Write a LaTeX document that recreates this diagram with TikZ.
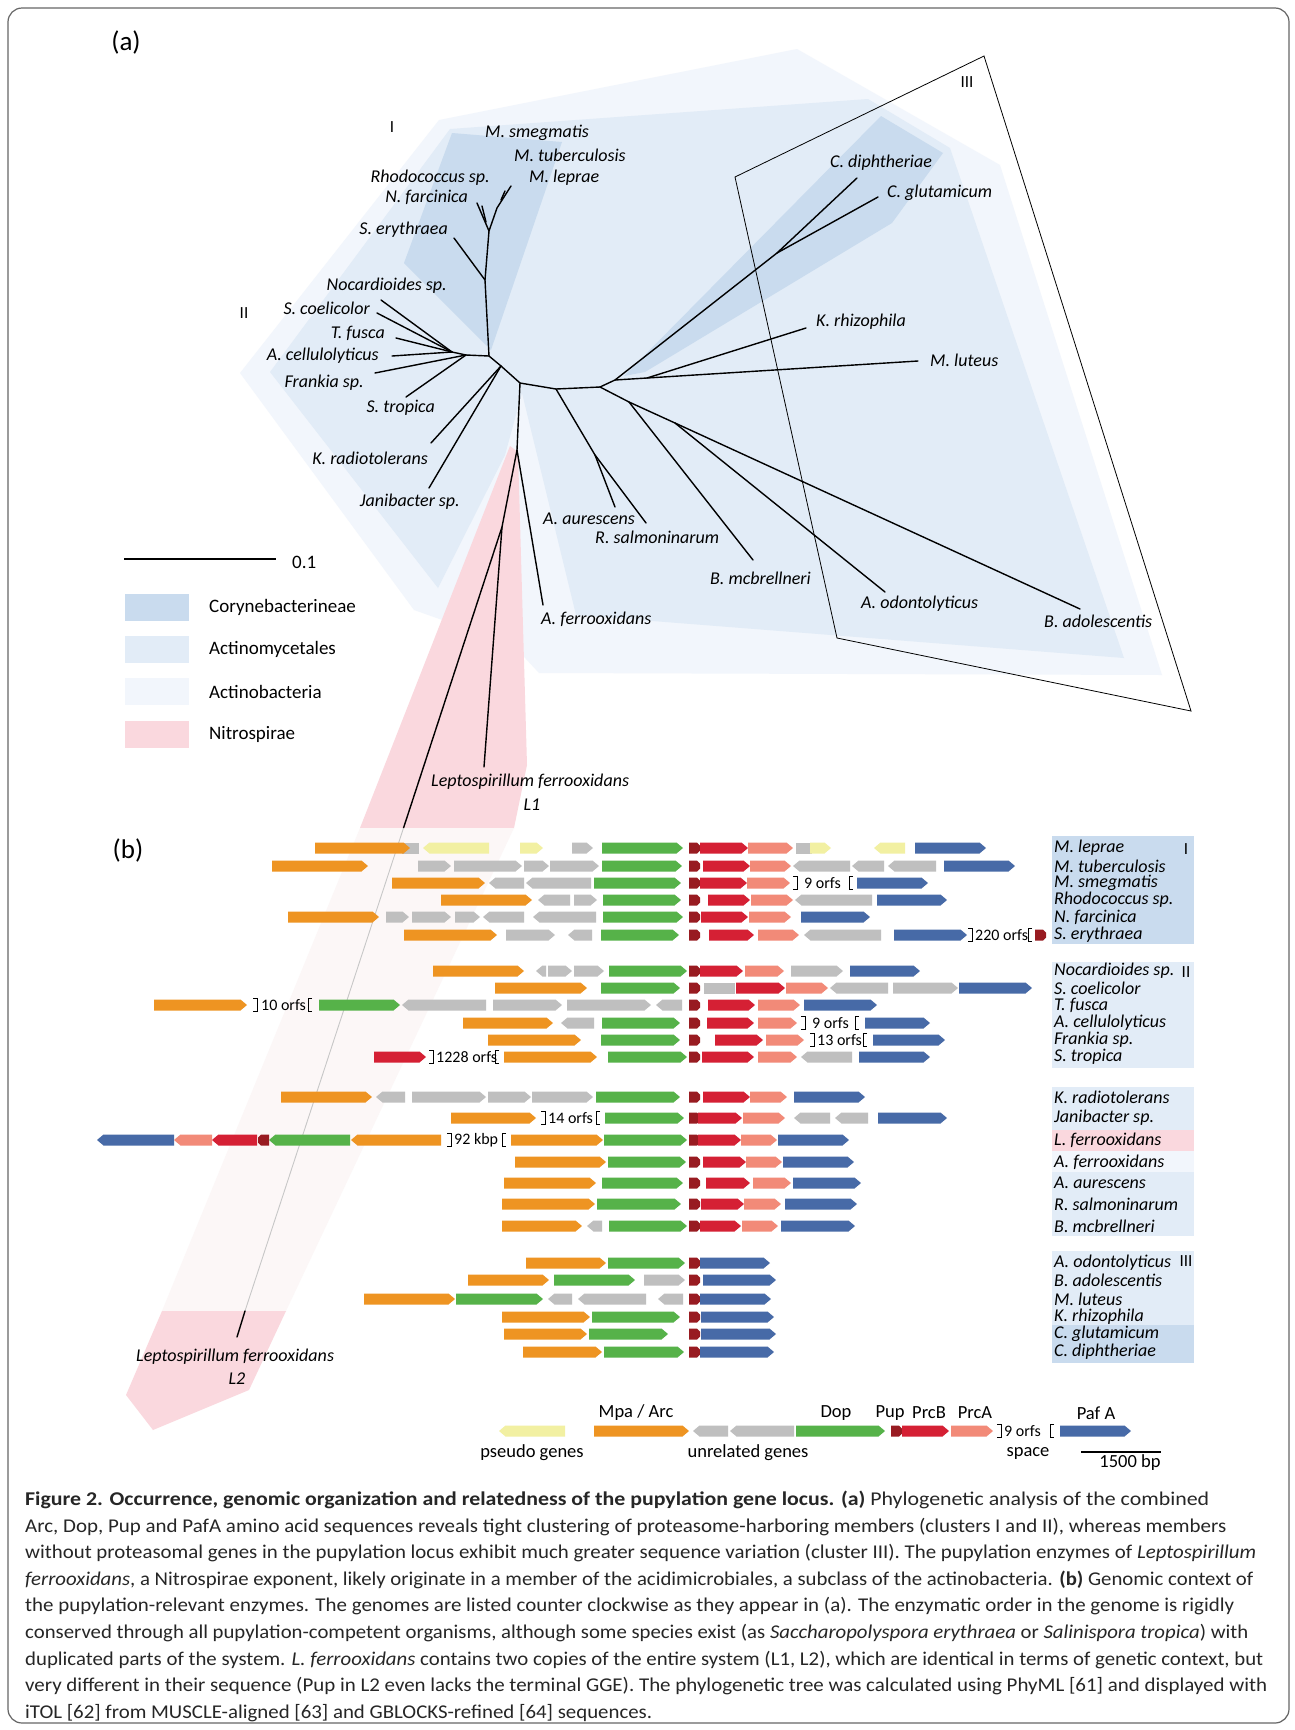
\documentclass[tikz,border=0pt]{standalone}
\usepackage{fontspec}
\setmainfont{Carlito}
\usepackage{graphicx}
\definecolor{coryne}{HTML}{C9DBEE}
\definecolor{actmyc}{HTML}{E2ECF7}
\definecolor{actbac}{HTML}{F2F6FC}
\definecolor{nitro}{HTML}{FAD8DE}
\definecolor{nitrolt}{HTML}{FCF7F7}
\definecolor{org}{HTML}{EE9422}
\definecolor{gry}{HTML}{BFBFBF}
\definecolor{ylw}{HTML}{F2F0A2}
\definecolor{grn}{HTML}{56B249}
\definecolor{pupc}{HTML}{981B21}
\definecolor{redc}{HTML}{D52034}
\definecolor{sal}{HTML}{F28A78}
\definecolor{blu}{HTML}{476AA7}
\definecolor{captc}{HTML}{262626}
\newcommand\gR[3]{\fill[#3] (#1,\Y-5.5) -- (#2-6.5,\Y-5.5) -- (#2,\Y) -- (#2-6.5,\Y+5.5) -- (#1,\Y+5.5) -- cycle;}
\newcommand\gL[3]{\fill[#3] (#2,\Y-5.5) -- (#1+6.5,\Y-5.5) -- (#1,\Y) -- (#1+6.5,\Y+5.5) -- (#2,\Y+5.5) -- cycle;}
\newcommand\gB[3]{\fill[#3] (#1,\Y-5.5) rectangle (#2,\Y+5.5);}
\newcommand\gP[1]{\fill[pupc] (#1,\Y-5.5) -- (#1+8,\Y-5.5) -- (#1+11,\Y-2.5) -- (#1+11,\Y+2.5) -- (#1+8,\Y+5.5) -- (#1,\Y+5.5) -- cycle;}
\newcommand\gPl[1]{\fill[pupc] (#1+11,\Y-5.5) -- (#1+3,\Y-5.5) -- (#1,\Y-2.5) -- (#1,\Y+2.5) -- (#1+3,\Y+5.5) -- (#1+11,\Y+5.5) -- cycle;}
\newcommand\brR[1]{\draw[brk] (#1-4,\Y-6.5) -- (#1,\Y-6.5) -- (#1,\Y+6.5) -- (#1-4,\Y+6.5);}
\newcommand\brL[1]{\draw[brk] (#1+4,\Y-6.5) -- (#1,\Y-6.5) -- (#1,\Y+6.5) -- (#1+4,\Y+6.5);}
\newcommand\gT[3]{\node[orf,anchor=west] (#1) at (#2,\Y) {#3};}
\tikzset{
  tl/.style={line width=1.4pt,line join=round,line cap=round},
  spn/.style={font=\fontsize{18}{20}\selectfont\itshape,inner sep=0pt},
  lgl/.style={font=\fontsize{19}{21}\selectfont,inner sep=0pt},
  glab/.style={font=\fontsize{18.5}{21}\selectfont,inner sep=0pt},
  orf/.style={font=\fontsize{16}{18}\selectfont,inner sep=0pt},
  roman/.style={font=\fontsize{17}{19}\selectfont,inner sep=0pt},
  brk/.style={line width=0.8pt,black},
  captext/.style={font=\fontsize{19.5}{22}\selectfont,text=captc,inner sep=0pt,anchor=west},
  panel/.style={font=\fontsize{27}{30}\selectfont,inner sep=0pt}
}
\begin{document}
\begin{tikzpicture}[x=1pt,y=-1pt]
\useasboundingbox (0,0) rectangle (1294,1730);
\fill[white] (0,0) rectangle (1294,1730);
\draw[black!60,line width=1.2pt,rounded corners=14pt] (8,8) rectangle (1289,1723);

% ---------- shaded clades ----------
\fill[actbac] (240,373) -- (439,120) -- (797,49) -- (1000,165) -- (1162,675) -- (539,673) -- (513,645) -- (414,610) -- cycle;
\fill[actmyc] (270,372) -- (450,129) -- (868,99) -- (950,148) -- (1124,658) -- (576,615) -- (522,393) -- (505,455) -- (438,588) -- cycle;
\fill[coryne] (452,133) -- (562,142) -- (491,350) -- (404,263) -- cycle;
\fill[coryne] (881,116) -- (943,153) -- (892,223) -- (645,372) -- (624,376) -- cycle;
\fill[nitro] (510,446) -- (518,452) -- (527,765) -- (514,828) -- (360,828) -- cycle;
\fill[nitrolt] (360,828) -- (514,828) -- (286,1311) -- (162,1311) -- cycle;
\fill[nitro] (162,1311) -- (286,1311) -- (249,1390) -- (153,1430) -- (126,1395) -- cycle;

% cluster III outline
\coordinate (c3a) at (735,177); \coordinate (c3b) at (984,56);
\coordinate (c3c) at (1191,711); \coordinate (c3d) at (837,638);
\draw[line width=0.8pt] (c3a) -- (c3b) -- (c3c) -- (c3d) -- cycle;

% ---------- tree ----------
\coordinate (R1) at (489,356); \coordinate (T1) at (485,280);
\coordinate (TA) at (489,231); \coordinate (TF1) at (486,222);
\coordinate (TF2) at (497,208); \coordinate (TF3) at (501,200);
\coordinate (eNfar) at (477,203); \coordinate (eRho) at (482,206);
\coordinate (eMlep) at (511,186); \coordinate (eMsm) at (505,191);
\coordinate (eSery) at (454,238);
\draw[tl] (R1) -- (T1) -- (TA) -- (eNfar);
\draw[tl] (TF1) -- (eRho);
\draw[tl] (TA) -- (TF2) -- (eMlep);
\draw[tl] (TF3) -- (eMsm);
\draw[tl] (T1) -- (eSery);
\coordinate (Q) at (466,355); \coordinate (P) at (452,352);
\coordinate (eNoc) at (381,300); \coordinate (eScoe) at (377,313);
\coordinate (eTfus) at (396,338); \coordinate (eAcel) at (392,356);
\coordinate (eFra) at (375,373); \coordinate (eStro) at (406,397);
\draw[tl] (R1) -- (Q) -- (P);
\draw[tl] (P) -- (eNoc); \draw[tl] (P) -- (eScoe);
\draw[tl] (P) -- (eTfus); \draw[tl] (P) -- (eAcel);
\draw[tl] (Q) -- (eFra); \draw[tl] (Q) -- (eStro);
\coordinate (N1) at (501,366); \coordinate (eKrad) at (431,443); \coordinate (eJan) at (429,488);
\coordinate (R2) at (520,383); \coordinate (R3) at (556,389); \coordinate (R4) at (600,387);
\draw[tl] (R1) -- (N1) -- (R2) -- (R3) -- (R4);
\draw[tl] (N1) -- (eKrad); \draw[tl] (N1) -- (eJan);
\coordinate (N2) at (517,450); \coordinate (N3) at (502,527);
\coordinate (eAfer) at (543,605); \coordinate (eL1) at (484,767);
\coordinate (L2a) at (403.5,828); \coordinate (L2b) at (245,1311); \coordinate (L2c) at (237,1337);
\draw[tl] (R2) -- (N2) -- (N3) -- (L2a);
\draw[tl] (N2) -- (eAfer); \draw[tl] (N3) -- (eL1);
\coordinate (AA) at (595,455); \coordinate (eAaur) at (615,507); \coordinate (eRsal) at (646,523);
\draw[tl] (R3) -- (AA) -- (eAaur); \draw[tl] (AA) -- (eRsal);
\coordinate (R5) at (615,380); \coordinate (K0) at (647,378); \coordinate (Cn) at (777,253);
\coordinate (eMlut) at (918,361); \coordinate (eKrhi) at (806,328);
\coordinate (eCdip) at (857,178); \coordinate (eCglu) at (878,197);
\draw[tl] (R4) -- (R5) -- (K0) -- (eMlut); \draw[tl] (K0) -- (eKrhi);
\draw[tl] (R5) -- (Cn) -- (eCdip); \draw[tl] (Cn) -- (eCglu);
\coordinate (R6) at (629,402); \coordinate (R7) at (675,423);
\coordinate (eBmcb) at (753,560); \coordinate (eBado) at (1080,609); \coordinate (eAodo) at (885,592);
\draw[tl] (R4) -- (R6) -- (eBmcb); \draw[tl] (R6) -- (R7) -- (eBado); \draw[tl] (R7) -- (eAodo);

% ---------- tree labels ----------
\node[panel] (pa) at (126,42) {(a)};
\node[roman] (rI) at (392,127) {I};
\node[roman] (rII) at (244,313) {II};
\node[roman] (rIII) at (967,82) {III};
\node[spn,anchor=west] (tMsm) at (485,133) {M. smegmatis};
\node[spn,anchor=west] (tMtb) at (514,155) {M. tuberculosis};
\node[spn,anchor=west] (tMlep) at (529,178) {M. leprae};
\node[spn,anchor=east] (tRho) at (490,178) {Rhodococcus sp.};
\node[spn,anchor=east] (tNfar) at (468,197) {N. farcinica};
\node[spn,anchor=east] (tSery) at (448,230) {S. erythraea};
\node[spn,anchor=east] (tNoc) at (447,286) {Nocardioides sp.};
\node[spn,anchor=east] (tScoe) at (370,308) {S. coelicolor};
\node[spn,anchor=east] (tTfus) at (385,333) {T. fusca};
\node[spn,anchor=east] (tAcel) at (379,356) {A. cellulolyticus};
\node[spn,anchor=east] (tFra) at (364,383) {Frankia sp.};
\node[spn,anchor=east] (tStro) at (435,408) {S. tropica};
\node[spn,anchor=east] (tKrad) at (428,458) {K. radiotolerans};
\node[spn,anchor=east] (tJan) at (460,502) {Janibacter sp.};
\node[spn,anchor=west] (tAaur) at (543,519) {A. aurescens};
\node[spn,anchor=west] (tRsal) at (595,537) {R. salmoninarum};
\node[spn,anchor=west] (tAfer) at (541,619) {A. ferrooxidans};
\node[spn,anchor=west] (tL1) at (431,782) {Leptospirillum ferrooxidans};
\node[spn] (tL1b) at (532,805) {L1};
\node[spn,anchor=west] (tBmcb) at (710,578) {B. mcbrellneri};
\node[spn,anchor=west] (tAodo) at (861,604) {A. odontolyticus};
\node[spn,anchor=west] (tBado) at (1044,621) {B. adolescentis};
\node[spn,anchor=west] (tCdip) at (830,163) {C. diphtheriae};
\node[spn,anchor=west] (tCglu) at (887,193) {C. glutamicum};
\node[spn,anchor=west] (tKrhi) at (816,322) {K. rhizophila};
\node[spn,anchor=west] (tMlut) at (930,360) {M. luteus};

% scale bar and legend
\coordinate (sb1) at (124,559); \coordinate (sb2) at (276,559);
\draw[line width=1.5pt] (sb1) -- (sb2);
\node[lgl,anchor=west] (sbt) at (292,562) {0.1};
\fill[coryne] (125,594) rectangle (189,621);
\fill[actmyc] (125,636) rectangle (189,663);
\fill[actbac] (125,678) rectangle (189,705);
\fill[nitro] (125,721) rectangle (189,748);
\node[lgl,anchor=west] (lg1) at (209,607) {Corynebacterineae};
\node[lgl,anchor=west] (lg2) at (209,649) {Actinomycetales};
\node[lgl,anchor=west] (lg3) at (209,692) {Actinobacteria};
\node[lgl,anchor=west] (lg4) at (209,734) {Nitrospirae};

% L2 continuation
\draw[black!22,line width=0.9pt] (L2a) -- (L2b);
\draw[tl] (L2b) -- (L2c);
\node[spn,anchor=west] (tL2) at (136,1357) {Leptospirillum ferrooxidans};
\node[spn] (tL2b) at (237,1379) {L2};

% ---------- panel b ----------
\node[panel] (pb) at (128,850) {(b)};
% species boxes
\fill[coryne] (1052,836) rectangle (1194,944);
\fill[actmyc] (1052,962) rectangle (1194,1068);
\fill[actmyc] (1052,1087) rectangle (1194,1130);
\fill[nitro] (1052,1130) rectangle (1194,1151);
\fill[actbac] (1052,1151) rectangle (1194,1172);
\fill[actmyc] (1052,1172) rectangle (1194,1236);
\fill[actmyc] (1052,1251) rectangle (1194,1325);
\fill[coryne] (1052,1325) rectangle (1194,1363);
\foreach \n/\y/\t in {1/848/M. leprae,2/866/M. tuberculosis,3/883/M. smegmatis,4/900/Rhodococcus sp.,5/917/N. farcinica,6/935/S. erythraea,
 7/971/Nocardioides sp.,8/988/S. coelicolor,9/1005/T. fusca,10/1023/A. cellulolyticus,11/1040/Frankia sp.,12/1057/S. tropica,
 13/1097/K. radiotolerans,14/1118/Janibacter sp.,15/1140/L. ferrooxidans,16/1162/A. ferrooxidans,17/1183/A. aurescens,18/1204/R. salmoninarum,19/1226/B. mcbrellneri,
 20/1263/A. odontolyticus,21/1280/B. adolescentis,22/1299/M. luteus,23/1317/K. rhizophila,24/1334/C. glutamicum,25/1352/C. diphtheriae}
 {\node[spn,anchor=west] (sp\n) at (1054,\y) {\t};}
\node[roman] (bI) at (1186,849) {I};
\node[roman] (bII) at (1186,972) {II};
\node[roman] (bIII) at (1186,1261) {III};

% gene rows
\def\Y{848}
\gB{402}{419}{gry}\gR{315}{410}{org}\gL{423}{489}{ylw}\gR{520}{543}{ylw}\gR{572}{593}{gry}\gR{602}{683}{grn}\gP{689}\gR{700}{748}{redc}\gR{748}{793}{sal}\gB{796}{812}{gry}\gR{810}{831}{ylw}\gL{874}{905}{ylw}\gR{915}{986}{blu}
\def\Y{866}
\gR{272}{368}{org}\gR{418}{451}{gry}\gR{454}{522}{gry}\gR{524}{549}{gry}\gR{550}{599}{gry}\gR{602}{682}{grn}\gP{689}\gR{703}{750}{redc}\gR{750}{791}{sal}\gL{793}{850}{gry}\gL{852}{884}{gry}\gL{888}{936}{gry}\gR{944}{1015}{blu}
\def\Y{883}
\gR{392}{485}{org}\gL{489}{524}{gry}\gL{526}{591}{gry}\gR{594}{681}{grn}\gP{689}\gR{700}{747}{redc}\gR{747}{790}{sal}\brR{797}\gT{o1}{804}{9 orfs}\brL{849}\gR{857}{928}{blu}
\def\Y{900}
\gR{441}{532}{org}\gL{538}{570}{gry}\gR{574}{597}{gry}\gR{603}{681}{grn}\gP{689}\gR{708}{750}{redc}\gR{751}{793}{sal}\gL{795}{872}{gry}\gR{877}{947}{blu}
\def\Y{917}
\gR{288}{379}{org}\gR{386}{409}{gry}\gR{412}{451}{gry}\gR{455}{480}{gry}\gL{483}{524}{gry}\gL{533}{596}{gry}\gR{603}{683}{grn}\gP{689}\gR{701}{748}{redc}\gR{749}{791}{sal}\gR{801}{870}{blu}
\def\Y{935}
\gR{404}{497}{org}\gR{506}{555}{gry}\gL{568}{592}{gry}\gR{601}{679}{grn}\gP{689}\gR{709}{754}{redc}\gR{758}{799}{sal}\gL{804}{881}{gry}\gR{894}{967}{blu}\brR{972}\gT{o2}{975}{220 orfs}\brL{1028}\gP{1035}
\def\Y{971}
\gR{433}{524}{org}\gL{536}{546}{gry}\gR{548}{572}{gry}\gR{574}{604}{gry}\gR{609}{687}{grn}\gP{689}\gR{700}{743}{redc}\gR{745}{784}{sal}\gR{791}{843}{gry}\gR{850}{920}{blu}
\def\Y{988}
\gR{495}{587}{org}\gR{601}{680}{grn}\gP{689}\gB{704}{735}{gry}\gR{736}{785}{redc}\gR{786}{828}{sal}\gL{830}{888}{gry}\gR{893}{958}{gry}\gR{959}{1032}{blu}
\def\Y{1005}
\gR{154}{247}{org}\brR{257}\gT{o3}{261}{10 orfs}\brL{308}\gR{319}{400}{grn}\gL{402}{486}{gry}\gR{493}{562}{gry}\gR{567}{651}{gry}\gL{656}{682}{gry}\gP{689}\gR{708}{755}{redc}\gR{758}{800}{sal}\gR{804}{877}{blu}
\def\Y{1023}
\gR{463}{553}{org}\gL{561}{594}{gry}\gR{602}{680}{grn}\gP{689}\gR{707}{754}{redc}\gR{758}{797}{sal}\brR{805}\gT{o4}{812}{9 orfs}\brL{855}\gR{865}{930}{blu}
\def\Y{1040}
\gR{488}{581}{org}\gR{601}{680}{grn}\gP{689}\gR{715}{763}{redc}\gR{766}{804}{sal}\brR{814}\gT{o5}{817}{13 orfs}\brL{863}\gR{873}{945}{blu}
\def\Y{1057}
\gR{374}{426}{redc}\brR{433}\gT{o6}{436}{1228 orfs}\brL{495}\gR{504}{597}{org}\gR{608}{687}{grn}\gP{689}\gR{702}{754}{redc}\gR{758}{797}{sal}\gL{801}{852}{gry}\gR{859}{930}{blu}
\def\Y{1097}
\gR{281}{372}{org}\gL{376}{405}{gry}\gR{412}{486}{gry}\gR{488}{531}{gry}\gR{532}{593}{gry}\gR{596}{680}{grn}\gP{689}\gR{703}{750}{redc}\gR{750}{787}{sal}\gR{794}{865}{blu}
\def\Y{1118}
\gR{451}{536}{org}\brR{545}\gT{o7}{548}{14 orfs}\brL{596}\gR{605}{684}{grn}\gP{689}\gR{698}{742}{redc}\gR{743}{785}{sal}\gL{794}{830}{gry}\gL{835}{868}{gry}\gR{878}{947}{blu}
\def\Y{1140}
\gL{97}{174}{blu}\gL{174}{212}{sal}\gL{212}{257}{redc}\gPl{258}\gL{269}{350}{grn}\gL{351}{441}{org}\brR{451}\gT{o8}{454}{92 kbp}\brL{502}\gR{511}{603}{org}\gR{604}{687}{grn}\gP{689}\gR{698}{741}{redc}\gR{741}{777}{sal}\gR{778}{849}{blu}
\def\Y{1162}
\gR{515}{606}{org}\gR{608}{686}{grn}\gP{689}\gR{703}{746}{redc}\gR{746}{782}{sal}\gR{783}{854}{blu}
\def\Y{1183}
\gR{504}{596}{org}\gR{602}{683}{grn}\gP{689}\gR{706}{750}{redc}\gR{753}{791}{sal}\gR{793}{861}{blu}
\def\Y{1204}
\gR{502}{595}{org}\gR{597}{681}{grn}\gP{689}\gR{701}{744}{redc}\gR{744}{781}{sal}\gR{785}{857}{blu}
\def\Y{1226}
\gR{502}{582}{org}\gL{587}{602}{gry}\gR{609}{687}{grn}\gP{689}\gR{700}{741}{redc}\gR{742}{778}{sal}\gR{781}{855}{blu}
\def\Y{1263}
\gR{526}{606}{org}\gR{608}{685}{grn}\gP{689}\gR{700}{770}{blu}
\def\Y{1280}
\gR{468}{549}{org}\gR{554}{635}{grn}\gR{644}{685}{gry}\gP{689}\gR{703}{776}{blu}
\def\Y{1299}
\gR{364}{455}{org}\gR{456}{543}{grn}\gL{548}{572}{gry}\gL{578}{646}{gry}\gL{658}{683}{gry}\gP{689}\gR{700}{771}{blu}
\def\Y{1317}
\gR{502}{590}{org}\gR{592}{680}{grn}\gP{689}\gR{701}{774}{blu}
\def\Y{1334}
\gR{504}{587}{org}\gR{589}{668}{grn}\gP{689}\gR{701}{776}{blu}
\def\Y{1352}
\gR{523}{602}{org}\gR{604}{684}{grn}\gP{689}\gR{700}{774}{blu}
% legend row
\def\Y{1431}
\gL{499}{565}{ylw}\gR{594}{689}{org}\gL{693}{728}{gry}\gL{730}{794}{gry}\gR{796}{885}{grn}\gP{891}\gR{902}{949}{redc}\gR{951}{993}{sal}\brR{1001}\gT{o9}{1004}{9 orfs}\brL{1050}\gR{1060}{1131}{blu}
\node[glab] (k1) at (636,1413) {Mpa / Arc};
\node[glab] (k2) at (836,1413) {Dop};
\node[glab] (k3) at (890,1413) {Pup};
\node[glab] (k4) at (929,1413) {PrcB};
\node[glab] (k5) at (975,1413) {PrcA};
\node[glab] (k6) at (1096,1413) {Paf A};
\node[glab] (k7) at (532,1453) {pseudo genes};
\node[glab] (k8) at (748,1453) {unrelated genes};
\node[glab] (k9) at (1028,1453) {space};
\coordinate (bp1) at (1081,1452); \coordinate (bp2) at (1161,1452);
\draw[line width=1.3pt] (bp1) -- (bp2);
\node[glab] (k10) at (1130,1463) {1500 bp};

% ---------- caption ----------
\node[captext] (c1) at (25,1500) {\resizebox{1184pt}{\height}{\textbf{Figure 2. Occurrence, genomic organization and relatedness of the pupylation gene locus. (a)} Phylogenetic analysis of the combined}};
\node[captext] (c2) at (25,1526.6) {\resizebox{1201pt}{\height}{Arc, Dop, Pup and PafA amino acid sequences reveals tight clustering of proteasome-harboring members (clusters I and II), whereas members}};
\node[captext] (c3) at (25,1553.2) {\resizebox{1231pt}{\height}{without proteasomal genes in the pupylation locus exhibit much greater sequence variation (cluster III). The pupylation enzymes of \textit{Leptospirillum}}};
\node[captext] (c4) at (25,1579.8) {\resizebox{1228pt}{\height}{\textit{ferrooxidans}, a Nitrospirae exponent, likely originate in a member of the acidimicrobiales, a subclass of the actinobacteria. \textbf{(b)} Genomic context of}};
\node[captext] (c5) at (25,1606.4) {\resizebox{1209pt}{\height}{the pupylation-relevant enzymes. The genomes are listed counter clockwise as they appear in (a). The enzymatic order in the genome is rigidly}};
\node[captext] (c6) at (25,1633) {\resizebox{1223pt}{\height}{conserved through all pupylation-competent organisms, although some species exist (as \textit{Saccharopolyspora erythraea} or \textit{Salinispora tropica}) with}};
\node[captext] (c7) at (25,1659.6) {\resizebox{1238pt}{\height}{duplicated parts of the system. \textit{L. ferrooxidans} contains two copies of the entire system (L1, L2), which are identical in terms of genetic context, but}};
\node[captext] (c8) at (25,1686.2) {\resizebox{1242pt}{\height}{very different in their sequence (Pup in L2 even lacks the terminal GGE). The phylogenetic tree was calculated using PhyML [61] and displayed with}};
\node[captext] (c9) at (25,1712.8) {\resizebox{627pt}{\height}{iTOL [62] from MUSCLE-aligned [63] and GBLOCKS-refined [64] sequences.}};
\end{tikzpicture}
\end{document}
